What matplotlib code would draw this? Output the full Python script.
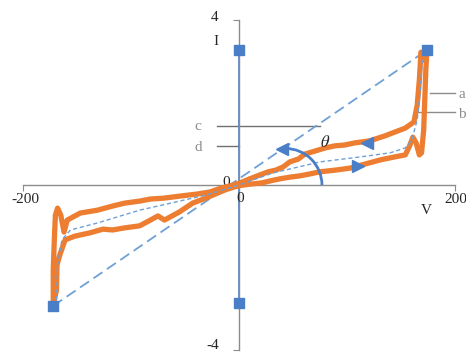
import numpy as np
import matplotlib.pyplot as plt
from matplotlib.patches import Arc

plt.rcParams['font.family'] = ['Liberation Serif', 'DejaVu Serif']
plt.rcParams['mathtext.fontset'] = 'stix'

# hysteresis loop (V, I)
loop_v = [-1, 10, 21, 29, 38, 47, 56, 66, 75, 89, 103, 117, 131, 144, 154, 158, 161, 164, 167,
          169, 171, 172, 173, 174, 172, 168.5, 167, 165, 162, 154, 144, 135, 121, 107, 98, 89,
          80, 70, 61, 55, 47, 41, 34, 27, 19, 10, 1, -8, -16, -27, -39, -55, -70, -82, -92,
          -106, -117, -131, -147, -159, -162, -165, -168, -170, -171, -172, -172, -169, -168.5,
          -166, -161, -152, -138, -126, -117, -106, -92, -82, -75, -69, -55, -43, -31, -22, -13, -1]
loop_i = [-0.02, 0.02, 0.05, 0.10, 0.15, 0.19, 0.22, 0.27, 0.32, 0.36, 0.41, 0.51, 0.61, 0.68,
          0.73, 0.95, 1.16, 1.02, 0.73, 0.78, 1.33, 2.06, 2.79, 3.27, 3.03, 3.22, 2.55, 1.94,
          1.53, 1.38, 1.28, 1.19, 1.07, 1.02, 0.97, 0.95, 0.90, 0.82, 0.75, 0.63, 0.56, 0.44,
          0.36, 0.32, 0.24, 0.15, 0.05, -0.02, -0.07, -0.17, -0.22, -0.27, -0.32, -0.34, -0.39,
          -0.44, -0.51, -0.61, -0.68, -0.85, -1.14, -0.73, -0.56, -0.73, -1.33, -2.06, -2.91,
          -2.55, -1.94, -1.70, -1.33, -1.24, -1.16, -1.07, -1.09, -1.04, -0.99, -0.85, -0.75,
          -0.85, -0.65, -0.44, -0.32, -0.22, -0.12, -0.02]

# middle (average) curve
mid_v = [-169, -168, -164, -156, -131, -92, -70, -30, 0, 31, 75, 112, 140, 154, 160, 165, 168, 169, 171]
mid_i = [-2.79, -1.94, -1.33, -1.09, -0.92, -0.61, -0.48, -0.24, 0, 0.29, 0.56, 0.68, 0.78,
         0.90, 1.09, 1.58, 2.30, 2.79, 3.15]

# end points (square markers)
diag_v = [-172, 174]
diag_i = [-2.93, 3.27]
axis_pts_v = [0, 0]
axis_pts_i = [3.27, -2.86]

# direction arrows on the loop
arr_up_v, arr_up_i = 118.5, 1.02
arr_lo_v, arr_lo_i = 110, 0.46

orange = '#ED7D31'
blue = '#4A7EC7'
light = '#6FA0D6'
gray = '#8C8C8C'

fig = plt.figure(figsize=(4.66, 3.54), dpi=100)
ax = fig.add_axes([23 / 466, 4 / 354, 432 / 466, 330 / 354])
ax.set_xlim(-200, 200)
ax.set_ylim(-4, 4)

for s in ['top', 'right']:
    ax.spines[s].set_visible(False)
ax.spines['left'].set_position(('data', 0))
ax.spines['bottom'].set_position(('data', 0))
for s in ['left', 'bottom']:
    ax.spines[s].set_color(gray)
    ax.spines[s].set_linewidth(1)
ax.set_xticks([-200, 200])
ax.set_yticks([-4, 4])
ax.tick_params(direction='out', length=4, color=gray, labelbottom=False, labelleft=False)

# tick labels and axis names
ax.text(-198, -0.36, '-200', fontsize=11, ha='center', va='center', color='#262626')
ax.text(201, -0.36, '200', fontsize=11, ha='center', va='center', color='#262626', clip_on=False)
ax.text(-23, 4.07, '4', fontsize=11, ha='center', va='center', color='#262626', clip_on=False)
ax.text(-24, -3.9, '-4', fontsize=11, ha='center', va='center', color='#262626', clip_on=False)
ax.text(-12, 0.05, '0', fontsize=11, ha='center', va='center', color='#262626')
ax.text(1, -0.32, '0', fontsize=11, ha='center', va='center', color='#262626')
ax.text(-21, 3.47, 'I', fontsize=11, ha='center', va='center', color='#262626')
ax.text(173, -0.63, 'V', fontsize=11, ha='center', va='center', color='#262626')

# annotation lines a, b, c, d
ax.plot([177, 200], [2.23, 2.23], color=gray, lw=1, clip_on=False)
ax.plot([165, 200], [1.77, 1.77], color=gray, lw=1, clip_on=False)
ax.plot([-20, 75], [1.43, 1.43], color='#707070', lw=1)
ax.plot([-20, 0], [0.95, 0.95], color='#707070', lw=1)
ax.text(206, 2.2, 'a', fontsize=11, ha='center', va='center', color=gray, clip_on=False)
ax.text(206, 1.72, 'b', fontsize=11, ha='center', va='center', color=gray, clip_on=False)
ax.text(-38, 1.41, 'c', fontsize=11, ha='center', va='center', color=gray)
ax.text(-38, 0.92, 'd', fontsize=11, ha='center', va='center', color=gray)

# curves
ax.plot(diag_v, diag_i, color=light, lw=1.3, dashes=(6, 3), zorder=2)
ax.plot(loop_v, loop_i, color=orange, lw=3.8, solid_joinstyle='round', zorder=3)
ax.plot(mid_v, mid_i, color=light, lw=1, dashes=(3, 2), zorder=4)
ax.plot(axis_pts_v, axis_pts_i, color=blue, lw=1.2, zorder=2)
ax.plot(diag_v, diag_i, ls='none', marker='s', ms=6.5, color=blue, zorder=5)
ax.plot(axis_pts_v, axis_pts_i, ls='none', marker='s', ms=6.5, color=blue, zorder=5)
ax.plot(arr_up_v, arr_up_i, marker='<', ms=8, color=blue, ls='none', zorder=5)
ax.plot(arr_lo_v, arr_lo_i, marker='>', ms=8, color=blue, ls='none', zorder=5)

# theta arc
ax.add_patch(Arc((43, 0), 2 * 33.8, 2 * 0.885, theta1=0, theta2=88, color=blue, lw=2, zorder=6))
ax.plot(40, 0.87, marker='<', ms=8, color=blue, ls='none', zorder=6)
ax.text(80, 1.02, r'$\theta$', fontsize=12, ha='center', va='center', color='#262626')

fig.savefig('out.png', dpi=100)
